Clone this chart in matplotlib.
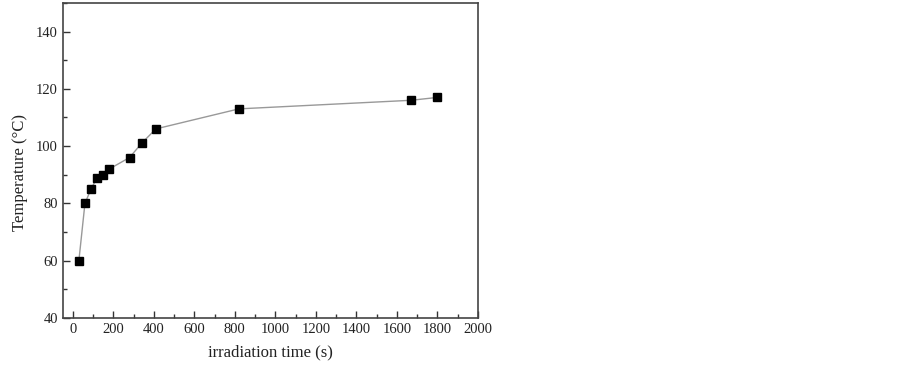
import matplotlib
matplotlib.use("Agg")
from matplotlib import pyplot as plt
from matplotlib.ticker import MultipleLocator

time_s = [30, 60, 90, 120, 150, 180, 280, 340, 410, 820, 1670, 1800]
temp_c = [60, 80, 85, 89, 90, 92, 96, 101, 106, 113, 116, 117]

plt.rcParams['font.family'] = ['Liberation Serif', 'DejaVu Serif']

fig = plt.figure(figsize=(9.03, 3.65), dpi=100)
ax = fig.add_axes([0.0694, 0.129, 0.4599, 0.863])

ax.plot(time_s, temp_c, color='#999999', linewidth=1.0,
        marker='s', markersize=6, markerfacecolor='black', markeredgecolor='black')

ax.set_xlim(-50, 2000)
ax.set_ylim(40, 150)
ax.set_xticks(range(0, 2001, 200))
ax.set_yticks(range(40, 141, 20))
ax.xaxis.set_minor_locator(MultipleLocator(100))
ax.yaxis.set_minor_locator(MultipleLocator(10))
ax.tick_params(which='both', direction='in', colors='#333333', labelcolor='#222222', labelsize=10.5)
ax.tick_params(which='major', length=5, width=1)
ax.tick_params(which='minor', length=3, width=1)
for s in ax.spines.values():
    s.set_color('#444444')
    s.set_linewidth(1.2)

ax.set_xlabel("irradiation time (s)", fontsize=12, color='#222222', labelpad=6)
ax.set_ylabel("Temperature (\u00b0C)", fontsize=12, color='#222222')
ax.yaxis.set_label_coords(-0.084, 0.462)

plt.savefig("out.png", dpi=100)
